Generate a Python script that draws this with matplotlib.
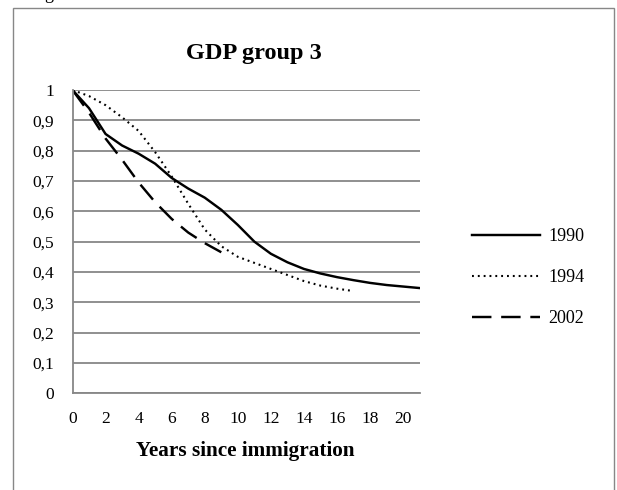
import matplotlib
matplotlib.use("Agg")
import matplotlib.pyplot as plt
from matplotlib.patches import Rectangle

plt.rcParams['font.family'] = ['Liberation Serif', 'DejaVu Serif']

# ---- data ----
years_1990 = list(range(0, 22))
vals_1990 = [1.0, 0.94, 0.855, 0.817, 0.79, 0.757, 0.71, 0.675, 0.645, 0.605,
             0.555, 0.5, 0.46, 0.432, 0.41, 0.395, 0.383, 0.373, 0.364, 0.357,
             0.352, 0.347]
years_1994 = list(range(0, 18))
vals_1994 = [1.0, 0.98, 0.95, 0.91, 0.865, 0.795, 0.715, 0.625, 0.54, 0.485,
             0.45, 0.43, 0.41, 0.39, 0.37, 0.355, 0.345, 0.337]
years_2002 = list(range(0, 10))
vals_2002 = [1.0, 0.925, 0.84, 0.77, 0.695, 0.63, 0.575, 0.53, 0.495, 0.465]

series_labels = ['1990', '1994', '2002']
title = 'GDP group 3'
xlabel = 'Years since immigration'
xticks = list(range(0, 21, 2))
yticks = [0, 0.1, 0.2, 0.3, 0.4, 0.5, 0.6, 0.7, 0.8, 0.9, 1.0]
ytick_labels = ['0', '0,1', '0,2', '0,3', '0,4', '0,5', '0,6', '0,7', '0,8', '0,9', '1']

W, H = 617, 490
fig = plt.figure(figsize=(W / 100, H / 100), dpi=100)

grey = '#878787'

# outer chart frame (continues below the picture)
fig.patches.append(Rectangle((12.7 / W, -0.1), (614 - 12.7) / W, 1.1 - 7.7 / H,
                             transform=fig.transFigure, fill=False,
                             edgecolor=grey, linewidth=1.0))
# cut-off text above the frame (only its descender shows in the reference)
fig.text(49 / W, 1 + 1.3 / H, 'g', ha='center', va='baseline', fontsize=13, color='black')

ax = fig.add_axes([72.5 / W, 1 - 393.3 / H, (419.7 - 72.5) / W, (393.3 - 90) / H])

l1, = ax.plot(years_1990, vals_1990, color='black', linewidth=1.75,
              solid_joinstyle='round', label=series_labels[0])
l2, = ax.plot(years_1994, vals_1994, color='black', linewidth=1.5,
              linestyle=(0, (0.9, 1.9)), label=series_labels[1])
l3, = ax.plot(years_2002, vals_2002, color='black', linewidth=1.75,
              linestyle=(0, (8, 4)), label=series_labels[2])

ax.set_xlim(0, 21)
ax.set_ylim(0, 1)
ax.set_xticks(xticks)
ax.set_xticklabels([str(t) for t in xticks])
ax.set_yticks(yticks)
ax.set_yticklabels(ytick_labels)
ax.tick_params(axis='both', length=0, labelsize=12.5, colors='black')
ax.tick_params(axis='x', pad=12.5)
ax.tick_params(axis='y', pad=13.5)

ax.grid(axis='y', color=grey, linewidth=1.3)
ax.set_axisbelow(True)
for side in ['top', 'right']:
    ax.spines[side].set_visible(False)
for side in ['left', 'bottom']:
    ax.spines[side].set_color(grey)
    ax.spines[side].set_linewidth(1.3)

fig.text(254 / W, 1 - 59.3 / H, title, ha='center', va='baseline',
         fontsize=17.5, fontweight='bold')
fig.text(245 / W, 1 - 456 / H, xlabel, ha='center', va='baseline',
         fontsize=15.3, fontweight='bold')

ax.legend(handles=[l1, l2, l3], loc='center left',
          bbox_to_anchor=(471.7 / W, 1 - 277.5 / H), bbox_transform=fig.transFigure,
          frameon=False, borderaxespad=0, borderpad=0, fontsize=13,
          handlelength=3.8, handletextpad=0.45, labelspacing=1.33)

fig.savefig('out.png', dpi=100)
